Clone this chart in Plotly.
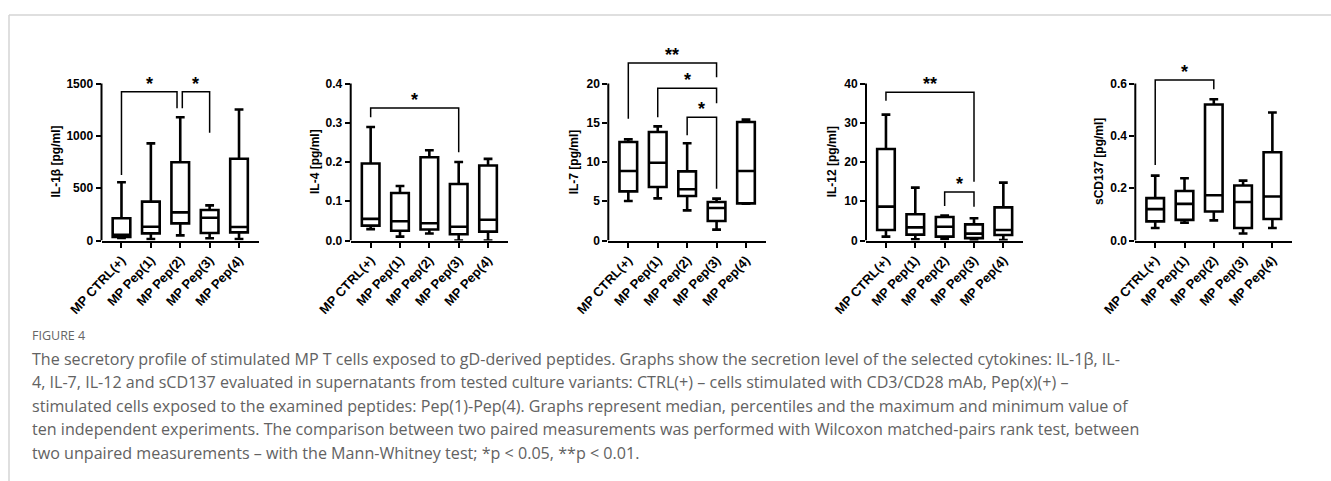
import plotly.graph_objects as go

W, H = 1331, 481

categories = ["MP CTRL(+)", "MP Pep(1)", "MP Pep(2)", "MP Pep(3)", "MP Pep(4)"]

# ---- data ----
il1b_min = [25, 14, 49, 21, 14]
il1b_q1 = [35, 68, 164, 72, 78]
il1b_med = [55, 132, 269, 218, 129]
il1b_q3 = [212, 371, 747, 291, 781]
il1b_max = [556, 928, 1178, 336, 1251]

il4_min = [0.029, 0.010, 0.018, 0.0, 0.0]
il4_q1 = [0.038, 0.025, 0.028, 0.016, 0.0225]
il4_med = [0.055, 0.049, 0.044, 0.035, 0.053]
il4_q3 = [0.196, 0.121, 0.212, 0.144, 0.191]
il4_max = [0.289, 0.139, 0.230, 0.200, 0.208]

il7_min = [5.03, 5.37, 3.84, 1.38, 4.70]
il7_q1 = [6.26, 6.81, 5.67, 2.48, 4.73]
il7_med = [8.85, 9.91, 6.52, 4.14, 8.85]
il7_q3 = [12.55, 13.82, 8.81, 4.90, 15.10]
il7_max = [12.89, 14.54, 12.38, 5.33, 15.40]

il12_min = [0.98, 0.30, 0.38, 0.13, 0.13]
il12_q1 = [2.68, 1.49, 0.98, 0.60, 1.40]
il12_med = [8.62, 3.35, 3.52, 1.74, 2.68]
il12_q3 = [23.3, 6.67, 5.99, 4.12, 8.45]
il12_max = [32.07, 13.46, 6.33, 5.65, 14.74]

cd137_min = [0.048, 0.068, 0.077, 0.027, 0.048]
cd137_q1 = [0.073, 0.079, 0.111, 0.048, 0.082]
cd137_med = [0.120, 0.140, 0.173, 0.147, 0.168]
cd137_q3 = [0.162, 0.189, 0.520, 0.210, 0.337]
cd137_max = [0.248, 0.238, 0.540, 0.229, 0.489]

y_titles = ["IL-1β [pg/ml]", "IL-4 [pg/ml]", "IL-7 [pg/ml]", "IL-12 [pg/ml]", "sCD137 [pg/ml]"]
y_ticks = [
    [0, 500, 1000, 1500],
    [0, 0.1, 0.2, 0.3, 0.4],
    [0, 5, 10, 15, 20],
    [0, 10, 20, 30, 40],
    [0, 0.2, 0.4, 0.6],
]
y_ticktext = [
    ["0", "500", "1000", "1500"],
    ["0.0", "0.1", "0.2", "0.3", "0.4"],
    ["0", "5", "10", "15", "20"],
    ["0", "10", "20", "30", "40"],
    ["0.0", "0.2", "0.4", "0.6"],
]

# significance brackets: (left idx, right idx, left leg end, top, right leg end, label, dx_left, dx_right)
brackets = [
    [(0, 2, 626, 1422, 1263, "*", 0, -0.11), (2, 3, 1263, 1422, 1030, "*", 0.07, 0)],
    [(0, 3, 0.314, 0.3376, 0.2247, "*", 0, 0)],
    [(0, 3, 15.5, 22.6, 20.8, "**", 0, 0), (1, 3, 15.7, 19.4, 17.5, "*", 0, 0),
     (2, 3, 13.4, 15.7, 6.6, "*", 0, 0)],
    [(0, 3, 35.6, 37.8, 15.0, "**", 0, 0), (2, 3, 8.8, 12.35, 8.6, "*", 0, 0)],
    [(0, 2, 0.289, 0.613, 0.578, "*", 0, 0)],
]

panels = [
    (il1b_min, il1b_q1, il1b_med, il1b_q3, il1b_max),
    (il4_min, il4_q1, il4_med, il4_q3, il4_max),
    (il7_min, il7_q1, il7_med, il7_q3, il7_max),
    (il12_min, il12_q1, il12_med, il12_q3, il12_max),
    (cd137_min, cd137_q1, cd137_med, cd137_q3, cd137_max),
]

# ---- layout geometry (pixels) ----
axis_px = [(101.5, 259), (350.7, 508), (608.3, 766), (866, 1023.3), (1135.3, 1292.3)]
zero_px, toptick_px, plot_top_px = 240.5, 83.5, 40
title_offset = [46, 35.7, 34, 33.7, 36.3]

FONT = "Liberation Sans, Arial, sans-serif"
CAP_FONT = "Open Sans, Lato, sans-serif"
fig = go.Figure()
layout = dict(
    width=W, height=H, margin=dict(l=0, r=0, t=0, b=0, autoexpand=False),
    paper_bgcolor="white", plot_bgcolor="white", showlegend=False,
)
shapes, annotations = [], []

for k, (stats, ticks, ttext, title, brs) in enumerate(zip(panels, y_ticks, y_ticktext, y_titles, brackets)):
    xa = "x" if k == 0 else f"x{k+1}"
    ya = "y" if k == 0 else f"y{k+1}"
    xl = "xaxis" if k == 0 else f"xaxis{k+1}"
    yl = "yaxis" if k == 0 else f"yaxis{k+1}"
    mn, q1, md, q3, mx = stats
    fig.add_trace(go.Box(
        x=list(range(len(categories))), q1=q1, median=md, q3=q3,
        lowerfence=mn, upperfence=mx, width=0.6, whiskerwidth=0.5,
        boxpoints=False, fillcolor="white",
        line=dict(color="black", width=2.6), xaxis=xa, yaxis=ya, hoverinfo="skip",
    ))
    top = ticks[-1]
    ymax = top * (zero_px - plot_top_px) / (zero_px - toptick_px)
    x0p, x1p = axis_px[k]
    layout[xl] = dict(
        domain=[x0p / W, x1p / W], range=[-0.68, 4.68], anchor=ya, automargin=False,
        tickvals=list(range(len(categories))), ticktext=categories, tickangle=-47,
        ticks="outside", ticklen=5, tickwidth=2, tickcolor="black",
        showline=True, linecolor="black", linewidth=2, showgrid=False, zeroline=False,
        tickfont=dict(family=FONT, size=13, color="black", weight="bold"),
    )
    layout[yl] = dict(
        domain=[(H - zero_px) / H, (H - plot_top_px) / H], range=[0, ymax], anchor=xa,
        automargin=False,
        tickvals=ticks, ticktext=ttext, ticks="outside", ticklen=5, tickwidth=2,
        tickcolor="black", showline=False, showgrid=False, zeroline=False,
        tickfont=dict(family=FONT, size=12, color="black", weight="bold"),
    )
    # y axis line only up to the top tick
    shapes.append(dict(type="line", xref=f"{xa} domain", yref=ya, x0=0, x1=0, y0=0, y1=top,
                       line=dict(color="black", width=2)))
    # y title
    annotations.append(dict(
        xref="paper", yref="paper", x=(x0p - title_offset[k]) / W, y=(H - 162) / H,
        text=title, textangle=-90, showarrow=False, xanchor="center", yanchor="middle",
        font=dict(family=FONT, size=12, color="black", weight="bold"),
    ))
    for (i, j, yl_end, ytop, yr_end, lab, dxl, dxr) in brs:
        xs = [i + dxl, i + dxl, j + dxr, j + dxr]
        ys = [yl_end, ytop, ytop, yr_end]
        fig.add_trace(go.Scatter(x=xs, y=ys, mode="lines", line=dict(color="black", width=1.5),
                                 xaxis=xa, yaxis=ya, hoverinfo="skip"))
        annotations.append(dict(
            xref=xa, yref=ya, x=(i + dxl + j + dxr) / 2, y=ytop, text=lab, showarrow=False,
            xanchor="center", yanchor="bottom", yshift=-4,
            font=dict(family=FONT, size=18, color="black", weight="bold"),
        ))

# frame lines
shapes.append(dict(type="line", xref="paper", yref="paper", x0=9 / W, x1=1, y0=(H - 15) / H, y1=(H - 15) / H,
                   line=dict(color="#d4d4d4", width=1.5)))
shapes.append(dict(type="line", xref="paper", yref="paper", x0=9 / W, x1=9 / W, y0=0, y1=(H - 15) / H,
                   line=dict(color="#d4d4d4", width=1.5)))

caption_title = "FIGURE 4"
caption_lines = [
    "The secretory profile of stimulated MP T cells exposed to gD-derived peptides. Graphs show the secretion level of the selected cytokines: IL-1β, IL-",
    "4, IL-7, IL-12 and sCD137 evaluated in supernatants from tested culture variants: CTRL(+) – cells stimulated with CD3/CD28 mAb, Pep(x)(+) –",
    "stimulated cells exposed to the examined peptides: Pep(1)-Pep(4). Graphs represent median, percentiles and the maximum and minimum value of",
    "ten independent experiments. The comparison between two paired measurements was performed with Wilcoxon matched-pairs rank test, between",
    "two unpaired measurements – with the Mann-Whitney test; *p < 0.05, **p < 0.01.",
]
annotations.append(dict(xref="paper", yref="paper", x=30 / W, y=(H - 335) / H, text=caption_title,
                        showarrow=False, xanchor="left", yanchor="middle",
                        font=dict(family=CAP_FONT, size=12.5, color="#666666")))
for n, line in enumerate(caption_lines):
    annotations.append(dict(xref="paper", yref="paper", x=30 / W, y=(H - (358.5 + 23.5 * n)) / H, text=line,
                            showarrow=False, xanchor="left", yanchor="middle",
                            font=dict(family=CAP_FONT, size=16.1, color="#626262")))

layout["shapes"] = shapes
layout["annotations"] = annotations
fig.update_layout(**layout)
fig.write_html("out.html")
